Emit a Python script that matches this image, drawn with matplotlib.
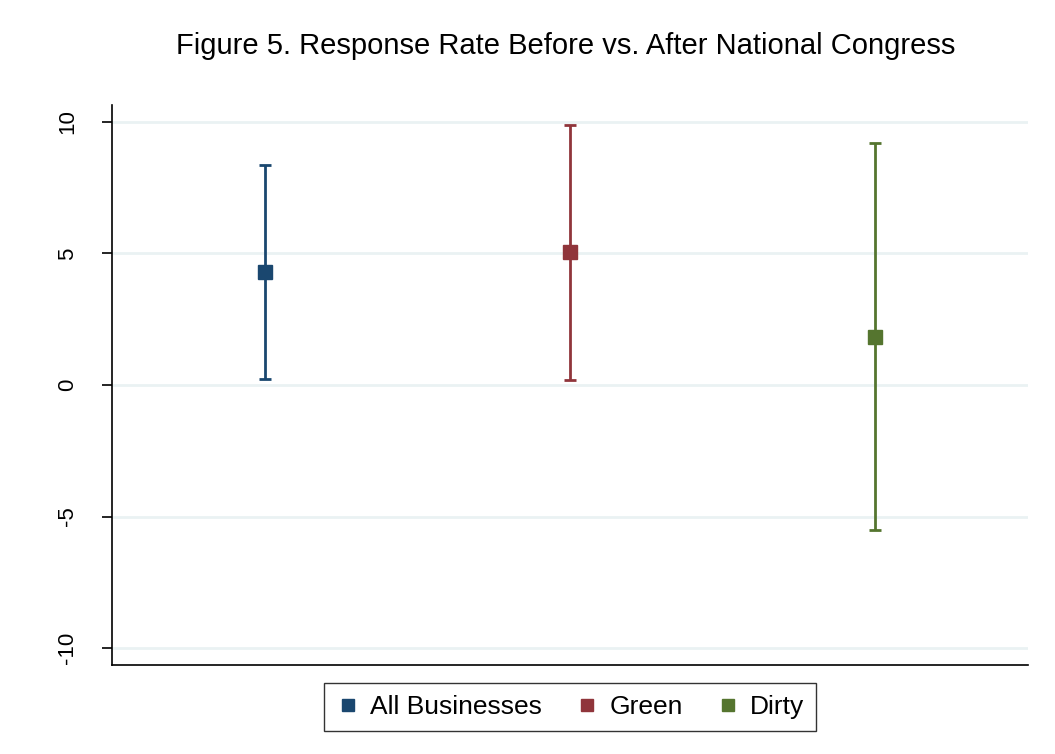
import numpy as np
import matplotlib.pyplot as plt

plt.rcParams['font.family'] = ['Liberation Sans', 'DejaVu Sans']

# Data
groups = ["All Businesses", "Green", "Dirty"]
estimate = [4.30, 5.06, 1.83]
ci_low = [0.23, 0.19, -5.51]
ci_high = [8.37, 9.89, 9.20]
colors = ["#1a476f", "#90353b", "#55752f"]
yticks = [-10, -5, 0, 5, 10]

fig = plt.figure(figsize=(10.55, 7.54), dpi=100)
ax = fig.add_axes([112 / 1055, 1 - 665 / 754, (1028 - 112) / 1055, (665 - 105) / 754])

x = np.arange(1, len(groups) + 1)
for i in range(len(groups)):
    err = [[estimate[i] - ci_low[i]], [ci_high[i] - estimate[i]]]
    ax.errorbar(x[i], estimate[i], yerr=err, fmt="s", color=colors[i],
                ecolor=colors[i], elinewidth=2, capsize=4.5, capthick=2,
                markersize=10, label=groups[i], zorder=3)

ax.set_xlim(0.5, 3.5)
ax.set_ylim(-10.64, 10.64)
ax.set_yticks(yticks)
ax.set_yticklabels([str(t) for t in yticks], rotation=90, va="center", fontsize=16)
ax.set_xticks([])
for t in yticks:
    ax.axhline(t, color="#eaf2f3", lw=2, zorder=0)

ax.spines["top"].set_visible(False)
ax.spines["right"].set_visible(False)
ax.spines["left"].set_linewidth(1.2)
ax.spines["bottom"].set_linewidth(1.2)
ax.tick_params(axis="y", length=7.5, width=1.2, pad=17)

fig.text(566 / 1055, 1 - 46 / 754, "Figure 5. Response Rate Before vs. After National Congress",
         ha="center", va="center", fontsize=21)

handles = [plt.Line2D([], [], marker="s", ls="none", color=c, markersize=8) for c in colors]
leg = ax.legend(handles, groups, loc="center", bbox_to_anchor=(0.5, -0.075), ncol=3,
                fontsize=19, frameon=True, fancybox=False, edgecolor="black",
                handletextpad=0.4, columnspacing=1.25, handlelength=0.9, borderpad=0.45)
leg.get_frame().set_linewidth(1.0)

fig.savefig("out.png", dpi=100, facecolor="white")
